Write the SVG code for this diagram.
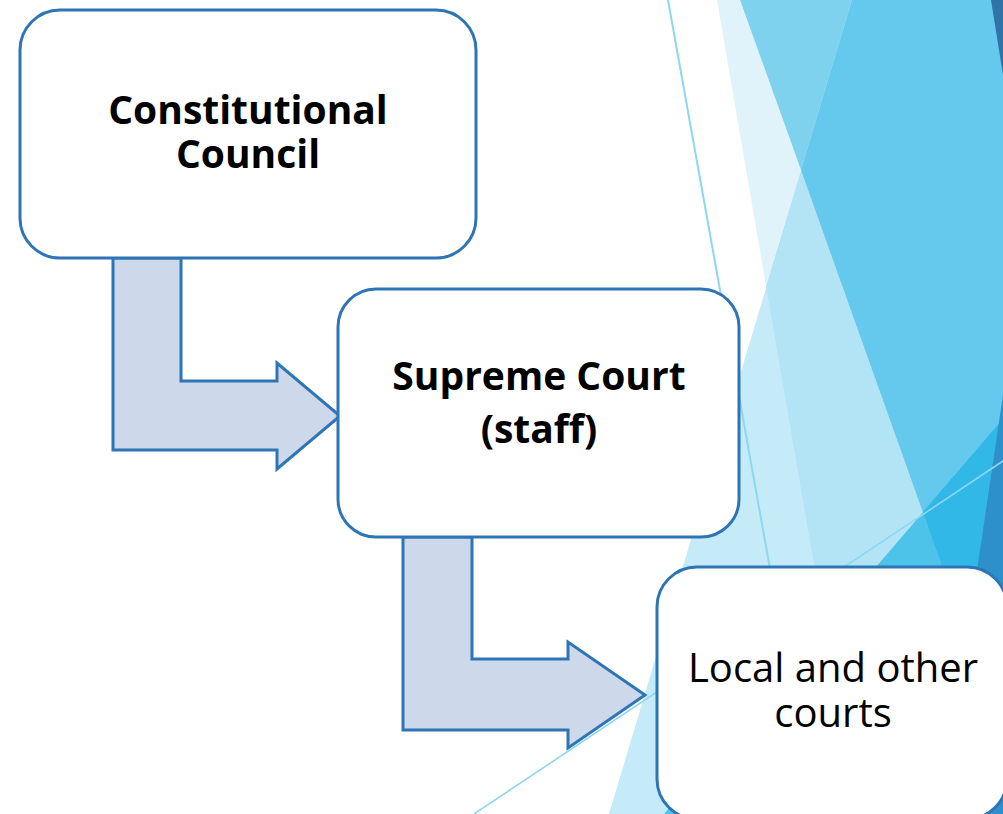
<svg xmlns="http://www.w3.org/2000/svg" width="1003" height="814" viewBox="0 0 1003 814">
  <style>
    .box { fill: #ffffff; stroke: #2E75B6; stroke-width: 3; }
    .arrow { fill: #CDD9EA; stroke: #2E75B6; stroke-width: 3; stroke-linejoin: miter; }
    .thin { stroke: #8DD7F1; fill: none; }
    .lbl { font-family: "Open Sans", "Noto Sans", "DejaVu Sans", sans-serif; fill: #000000; text-anchor: middle; }
    .b { font-weight: bold; font-size: 39px; }
    .r { font-weight: normal; font-size: 40px; }
  </style>
  <rect x="0" y="0" width="1003" height="814" fill="#ffffff"/>
  <g id="background">
    <polygon points="852,0 1003,0 1003,814 609,814" fill="#C5EBF8"/>
    <polygon points="852,0 1003,0 1003,814 857,814 766,286" fill="#B2E4F6"/>
    <polygon points="717,0 740,0 801,170 766,286" fill="#E0F3FA"/>
    <polygon points="740,0 852,0 801,170" fill="#7FD2EE"/>
    <polygon points="852,0 1003,0 1003,737 801,170" fill="#64C9EC"/>
    <polygon points="1003,419 1003,814 664,814" fill="#4EC3EA"/>
    <polygon points="923,512 1003,419 1003,737" fill="#31B8E6"/>
    <polygon points="1003,395 1003,814 941,814" fill="#2E90CB"/>
    <polygon points="991,0 1003,0 1003,75" fill="#2F73A8"/>
    <line class="thin" x1="668" y1="0" x2="814" y2="814" stroke-width="2"/>
    <line class="thin" x1="1003" y1="461" x2="474" y2="814" stroke-width="1.6"/>
  </g>
  <g id="connectors">
    <polygon class="arrow" points="113,258 181,258 181,381 277,381 277,363 340,416 277,469 277,450 113,450"/>
    <polygon class="arrow" points="403,537 472,537 472,659 568,659 568,642 645,695 568,748 568,730 403,730"/>
  </g>
  <g id="node-constitutional">
    <rect class="box" x="20" y="10" width="456" height="248" rx="40" ry="40"/>
    <text class="lbl b" x="248" y="124">Constitutional</text>
    <text class="lbl b" x="248" y="168">Council</text>
  </g>
  <g id="node-supreme">
    <rect class="box" x="338" y="289" width="401" height="248" rx="38" ry="38"/>
    <text class="lbl b" x="539" y="390">Supreme Court</text>
    <text class="lbl b" x="539" y="443">(staff)</text>
  </g>
  <g id="node-local">
    <rect class="box" x="657" y="567" width="350" height="252" rx="40" ry="40"/>
    <text class="lbl r" x="833" y="682">Local and other</text>
    <text class="lbl r" x="833" y="727">courts</text>
  </g>
</svg>
